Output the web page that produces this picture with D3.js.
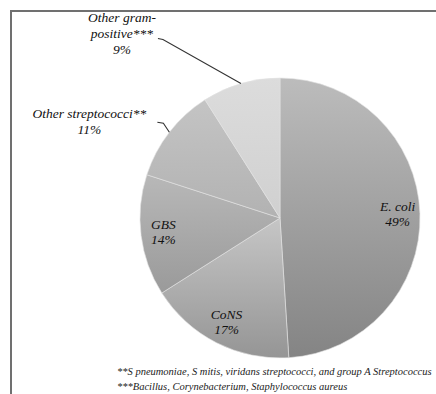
<!DOCTYPE html>
<html><head><meta charset="utf-8">
<script src="https://cdn.jsdelivr.net/npm/d3@7"></script>
<style>body{margin:0;background:#fff;}svg{display:block;}
.lbl{font-family:"Liberation Serif","Times New Roman",Times,serif;font-style:italic;}
</style>
</head><body>
<svg id="c" width="436" height="394"></svg>
<script>
const categories = ["E. coli", "CoNS", "GBS", "Other streptococci**", "Other gram-positive***"];
const values = [49, 17, 14, 11, 9];
const labelLines = [["E. coli","49%"],["CoNS","17%"],["GBS","14%"],["Other streptococci**","11%"],["Other gram-","positive***","9%"]];
const topColors = ["#bcbcbc","#c6c6c6","#b8b8b8","#c4c4c4","#dcdcdc"];
const bottomColors = ["#848484","#959595","#9a9a9a","#b2b2b2","#d0d0d0"];
const footnotes = ["**S pneumoniae, S mitis, viridans streptococci, and group A Streptococcus",
                   "***Bacillus, Corynebacterium, Staphylococcus aureus"];

const svg = d3.select("#c");
const cx = 280, cy = 218, R = 140;

svg.append("rect").attr("x",11).attr("y",11).attr("width",600).attr("height",600)
  .attr("fill","none").attr("stroke","#707070").attr("stroke-width",2);

const defs = svg.append("defs");
categories.forEach((c,i)=>{
  const g = defs.append("linearGradient").attr("id","g"+i).attr("x1",0).attr("y1",0).attr("x2",0).attr("y2",1);
  g.append("stop").attr("offset","0%").attr("stop-color",topColors[i]);
  g.append("stop").attr("offset","100%").attr("stop-color",bottomColors[i]);
});

const pie = d3.pie().sort(null).value(d=>d)(values);
const arc = d3.arc().innerRadius(0).outerRadius(R);
const labelArc = d3.arc().innerRadius(R*0.84).outerRadius(R*0.84);
const edgeArc = d3.arc().innerRadius(R).outerRadius(R);

const g = svg.append("g").attr("transform",`translate(${cx},${cy})`);
g.selectAll("path.s").data(pie).join("path").attr("class","s")
  .attr("d",arc).attr("fill",(d,i)=>`url(#g${i})`)
  .attr("stroke","#e2e2e2").attr("stroke-width",0.6);

// inside labels
pie.slice(0,3).forEach((d,i)=>{
  const [x,y] = labelArc.centroid(d);
  const t = g.append("text").attr("class","lbl").attr("y",y-3.5).attr("text-anchor","middle")
    .style("font-size","13.5px").attr("fill","#111");
  labelLines[i].forEach((l,k)=>t.append("tspan").attr("x",x).attr("dy",k?15:0).text(l));
});

// outside labels: offsets of the leader end and text from the arc edge point
const outside = [
  {i:3, elbow:[-6,-9], end:[-12,-10], text:[-80,-14]},
  {i:4, elbow:[-78,-44], end:[-83,-45], text:[-119,-62]}
];
outside.forEach(o=>{
  const d = pie[o.i];
  const [px,py] = edgeArc.centroid(d);
  g.append("path").attr("d",d3.line()([[px,py],[px+o.elbow[0],py+o.elbow[1]],[px+o.end[0],py+o.end[1]]]))
    .attr("fill","none").attr("stroke","#333").attr("stroke-width",1.1);
  const tx = px+o.text[0], ty = py+o.text[1];
  const t = g.append("text").attr("class","lbl").attr("text-anchor","middle").attr("y",ty)
    .style("font-size","13.5px").attr("fill","#111");
  labelLines[o.i].forEach((l,k)=>t.append("tspan").attr("x",tx).attr("dy",k?16:0).text(l));
});

svg.selectAll("text.fn").data(footnotes).join("text").attr("class","fn lbl")
  .attr("x",117).attr("y",(d,i)=>375+i*15).text(d=>d)
  .style("font-size","10.5px").attr("fill","#222");
</script>
</body></html>
